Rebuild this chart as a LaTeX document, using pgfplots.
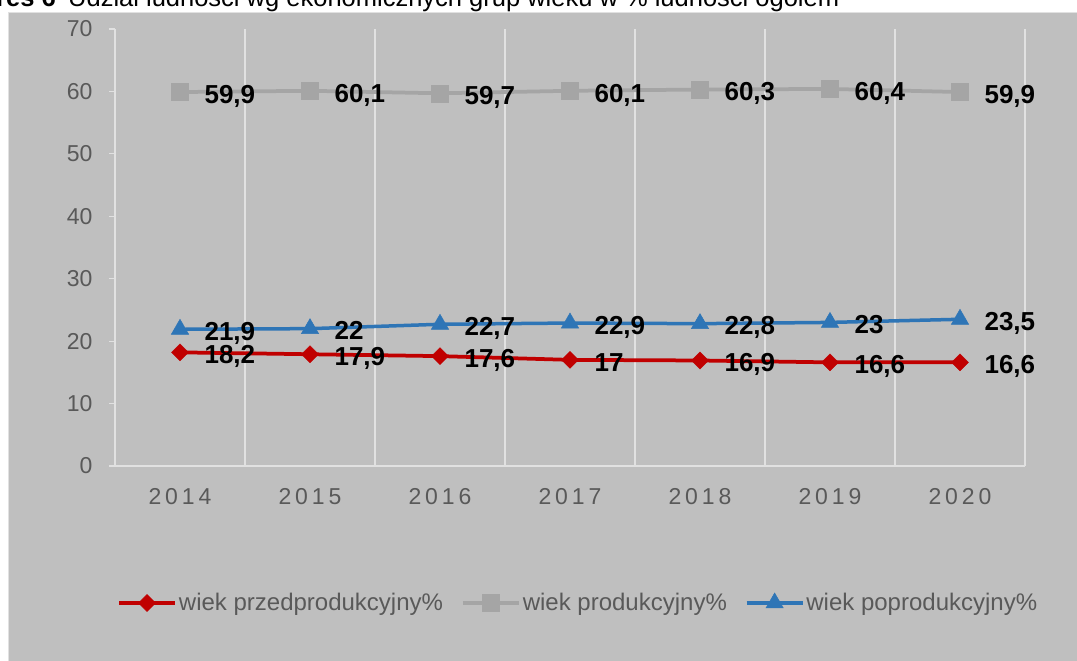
\documentclass[border=0pt]{standalone}
\usepackage{fontspec}
\setmainfont{Liberation Sans}
\newfontfamily\spacedfont[LetterSpace=17]{Liberation Sans}
\usepackage{pgfplots}
\pgfplotsset{compat=1.18}
\pgfplotsset{/pgf/number format/assume math mode=true}
\definecolor{bg}{RGB}{191,191,191}
\definecolor{txtgray}{RGB}{89,89,89}
\definecolor{gridc}{RGB}{225,225,225}
\definecolor{cred}{RGB}{192,0,0}
\definecolor{cgray}{RGB}{165,165,165}
\definecolor{cblue}{RGB}{46,117,182}
\begin{document}
\begin{tikzpicture}
\fill[white] (0pt,0pt) rectangle (1077pt,661pt);
\fill[bg] (8pt,0pt) rectangle (1077pt,649pt);
\draw[gridc, line width=1pt] (8.5pt,0pt) -- (8.5pt,648.5pt) -- (1077pt,648.5pt);
\begin{axis}[
  at={(115pt,195pt)}, anchor=south west,
  scale only axis, width=910pt, height=437pt,
  xmin=-0.5, xmax=6.5, ymin=0, ymax=70,
  axis lines*=left,
  axis line style={gridc, line width=1.5pt},
  xtick={0,...,6},
  xticklabels={2014,2015,2016,2017,2018,2019,2020},
  minor xtick={-0.5,0.5,...,6.5},
  xminorgrids=true,
  minor x grid style={gridc, line width=1.3pt},
  minor tick length=0pt,
  ytick={0,10,...,70},
  tick align=outside,
  major tick length=6pt,
  xtick style={draw=none},
  ytick style={gridc, line width=1.2pt},
  yticklabel style={font=\fontsize{23}{28}\selectfont, text=txtgray, xshift=-13pt},
  xticklabel style={font=\spacedfont\fontsize{23}{28}\selectfont, text=txtgray, yshift=-13pt},
  nodes near coords,
  every node near coord/.append style={font=\fontsize{26}{31}\selectfont\bfseries, text=black, anchor=west, text height=19pt, text depth=5pt, xshift=21pt, yshift=-4.3pt, /pgf/number format/use comma},
  legend columns=3,
  legend cell align=left,
  legend style={at={(0.509,-0.3135)}, anchor=center, draw=none, fill=none,
    font=\fontsize{24}{29}\selectfont, text=txtgray,
    /tikz/every even column/.append style={column sep=16pt},
    nodes={inner xsep=2pt}},
  legend image code/.code={
    \draw[#1, mark repeat=2, mark phase=2] plot coordinates {(0pt,0pt) (28pt,0pt) (56pt,0pt)};
  },
]
\addplot[cred, line width=3.75pt, mark=square*, mark options={solid, rotate=45, mark size=6pt, line width=0.5pt, fill=cred, draw=cred}]
  coordinates {(0,18.2) (1,17.9) (2,17.6) (3,17) (4,16.9) (5,16.6) (6,16.6)};
\addlegendentry{wiek przedprodukcyjny\%}
\addplot[cgray, line width=3.75pt, mark=square*, mark options={solid, mark size=8.5pt, line width=0.5pt, fill=cgray, draw=cgray}]
  coordinates {(0,59.9) (1,60.1) (2,59.7) (3,60.1) (4,60.3) (5,60.4) (6,59.9)};
\addlegendentry{wiek produkcyjny\%}
\addplot[cblue, line width=3.5pt, mark=triangle*, mark options={solid, mark size=10pt, line width=0.5pt, fill=cblue, draw=cblue}]
  coordinates {(0,21.9) (1,22) (2,22.7) (3,22.9) (4,22.8) (5,23) (6,23.5)};
\addlegendentry{wiek poprodukcyjny\%}
\end{axis}
\begin{scope}
\clip (0pt,0pt) rectangle (1077pt,661pt);
\node[anchor=base west, inner sep=0pt, font=\fontsize{25.5}{30}\selectfont] at (68pt,654pt) {Udział ludności wg ekonomicznych grup wieku w \% ludności ogółem};
\node[anchor=base east, inner sep=0pt, font=\fontsize{25.5}{30}\selectfont\bfseries] at (56pt,654pt) {Wykres 6};
\end{scope}
\pgfresetboundingbox
\useasboundingbox (0pt,0pt) rectangle (1077pt,661pt);
\end{tikzpicture}
\end{document}
